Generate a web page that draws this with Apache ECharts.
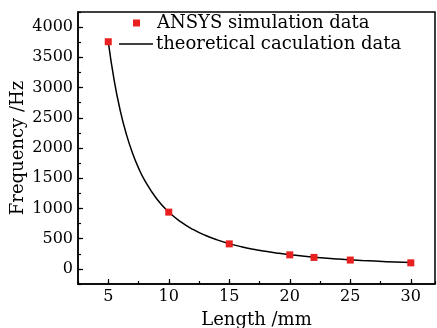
<!DOCTYPE html>
<html><head><meta charset="utf-8">
<script src="https://cdn.jsdelivr.net/npm/echarts@6/dist/echarts.min.js"></script>
<style>html,body{margin:0;padding:0;background:#fff}#c{width:437px;height:328px}</style>
</head><body><div id="c"></div>
<script>
const simLength = [5, 10, 15, 20, 22, 25, 30];
const simFreq = [3758, 939, 414, 232, 190, 146, 100];
const theoLength = [5, 5.5, 6, 6.5, 7, 7.5, 8, 9, 10, 11, 12, 13, 14, 15, 16, 17, 18, 19, 20, 22, 24, 26, 28, 30];
const theoFreq = [3760, 3107, 2611, 2225, 1918, 1671, 1469, 1160, 940, 777, 653, 556, 480, 418, 367, 325, 290, 260, 235, 194, 163, 139, 120, 104];
const xTicks = [5, 10, 15, 20, 25, 30];
const yTicks = [0, 500, 1000, 1500, 2000, 2500, 3000, 3500, 4000];
const simName = 'ANSYS simulation data';
const theoName = 'theoretical caculation data';

const F = 'DejaVu Serif';
const chart = echarts.init(document.getElementById('c'));
const baseX = {type:'value', min:2.5, max:32, interval:2.5, gridIndex:0};
const baseY = {type:'value', min:-250, max:4250, interval:250, gridIndex:0};
chart.setOption({
  animation:false,
  grid:{left:78, right:2, top:12, bottom:44, containLabel:false, outerBoundsMode:'none',
        show:true, borderColor:'#000', borderWidth:1.5, backgroundColor:'transparent'},
  legend:[
    {data:[simName], left:133, top:14, padding:0, icon:'rect', itemWidth:7, itemHeight:7,
     textStyle:{fontFamily:F, fontSize:18, color:'#000', padding:[0,0,0,12]}},
    {data:[theoName], left:119, top:35, padding:0, icon:'rect', itemWidth:34, itemHeight:1.5,
     textStyle:{fontFamily:F, fontSize:18, color:'#000', padding:[0,0,0,-2]}}
  ],
  xAxis:[
    Object.assign({}, baseX, {
      name:'Length /mm', nameLocation:'middle', nameGap:27, nameMoveOverlap:false,
      nameTextStyle:{fontFamily:F, fontSize:18, color:'#000'},
      axisLine:{show:true, onZero:false, lineStyle:{color:'#000', width:1.5}},
      axisTick:{show:true, inside:true, length:3, lineStyle:{color:'#000', width:1.2}},
      axisLabel:{fontFamily:F, fontSize:16, color:'#000', margin:5,
        formatter:v => xTicks.includes(v) ? String(v) : ''},
      splitLine:{show:false}
    }),
    Object.assign({}, baseX, {
      position:'bottom',
      axisLine:{show:false, onZero:false},
      axisTick:{show:true, inside:true, length:5, customValues:xTicks, lineStyle:{color:'#000', width:1.2}},
      axisLabel:{show:false},
      splitLine:{show:false}
    })
  ],
  yAxis:[
    Object.assign({}, baseY, {
      name:'Frequency /Hz', nameLocation:'middle', nameGap:51, nameMoveOverlap:false,
      nameTextStyle:{fontFamily:F, fontSize:18, color:'#000'},
      axisLine:{show:true, onZero:false, lineStyle:{color:'#000', width:1.5}},
      axisTick:{show:true, inside:true, length:3, lineStyle:{color:'#000', width:1.2}},
      axisLabel:{fontFamily:F, fontSize:16, color:'#000', margin:5,
        formatter:v => yTicks.includes(v) ? String(v) : ''},
      splitLine:{show:false}
    }),
    Object.assign({}, baseY, {
      position:'left',
      axisLine:{show:false, onZero:false},
      axisTick:{show:true, inside:true, length:5, customValues:yTicks, lineStyle:{color:'#000', width:1.2}},
      axisLabel:{show:false},
      splitLine:{show:false}
    })
  ],
  series:[
    {name:theoName, type:'line', smooth:true, symbol:'none', showSymbol:false, z:2,
     lineStyle:{color:'#000', width:1.5}, itemStyle:{color:'#000'},
     data:theoLength.map((x,i)=>[x, theoFreq[i]])},
    {name:simName, type:'scatter', symbol:'rect', symbolSize:7, z:3,
     itemStyle:{color:'#e82020', opacity:1},
     data:simLength.map((x,i)=>[x, simFreq[i]])}
  ]
});
</script></body></html>
